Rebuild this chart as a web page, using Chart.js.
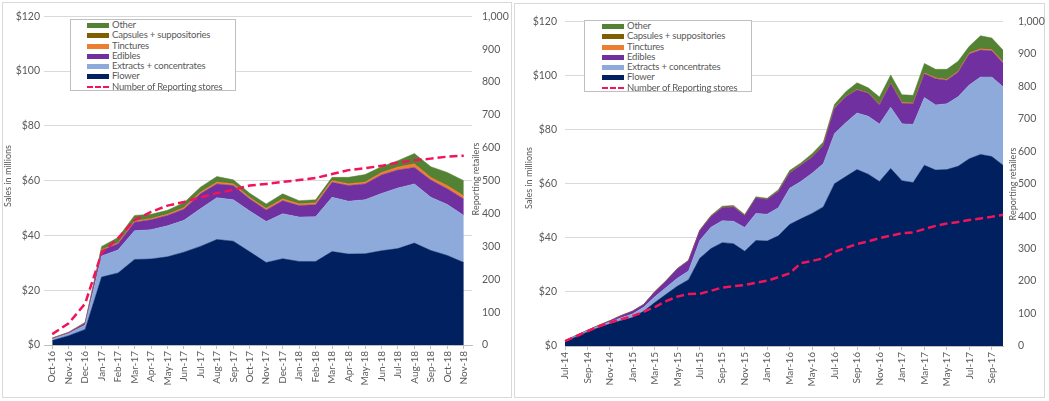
<!DOCTYPE html>
<html>
<head>
<meta charset="utf-8">
<script src="https://cdn.jsdelivr.net/npm/chart.js@4.4.1/dist/chart.umd.min.js"></script>
<style>
  body { margin: 0; background: #fff; font-family: Lato, sans-serif; }
  #page { position: relative; width: 1049px; height: 401px; overflow: hidden; }
  .panel { position: absolute; border: 1px solid #d9d9d9; box-sizing: border-box; }
  canvas { position: absolute; top: 0; }
  .legend { position: absolute; border: 1px solid #bfbfbf; background: #fff; box-sizing: border-box;
            font-size: 9.5px; letter-spacing: -0.2px; color: #595959; }
  .legend .row { position: relative; height: 10.25px; line-height: 10.25px; white-space: nowrap; }
  .legend .txt { position: absolute; color: #595959; }
  .legend .sw { position: absolute; top: 3px; height: 5px; }
  .legend .dash { position: absolute; top: 4px; height: 0; border-top: 2.5px dashed #f0145a; }
</style>
</head>
<body>
<div id="page">
  <div class="panel" style="left:2px; top:2px; width:510px; height:396px;"></div>
  <div class="panel" style="left:514px; top:3px; width:531px; height:395px;"></div>
  <canvas id="leftChart" width="512" height="401" style="left:0;"></canvas>
  <canvas id="rightChart" width="537" height="401" style="left:512px;"></canvas>
  <div id="leftLegend" class="legend" style="left:70px; top:19px; width:166px; height:72px;"></div>
  <div id="rightLegend" class="legend" style="left:584px; top:20px; width:168px; height:72px;"></div>
</div>

<script>
// ---- data: left panel (monthly, Oct-16 .. Nov-18), sales in $ millions ----
const leftMonths = ['Oct-16','Nov-16','Dec-16','Jan-17','Feb-17','Mar-17','Apr-17','May-17','Jun-17',
  'Jul-17','Aug-17','Sep-17','Oct-17','Nov-17','Dec-17','Jan-18','Feb-18','Mar-18','Apr-18','May-18',
  'Jun-18','Jul-18','Aug-18','Sep-18','Oct-18','Nov-18'];
const leftFlower    = [1.6, 3.4, 5.7, 24.8, 26.3, 31.2, 31.4, 32.2, 33.9, 36.0, 38.5, 37.9, 34.0, 30.1, 31.5, 30.5, 30.5, 34.1, 33.2, 33.3, 34.4, 35.2, 37.2, 34.5, 32.7, 30.1];
const leftExtracts  = [0.6, 0.8, 1.6, 7.7, 8.4, 10.5, 10.7, 11.3, 11.6, 13.7, 15.3, 15.1, 14.9, 15.0, 16.4, 16.2, 16.3, 19.8, 19.3, 19.7, 20.9, 22.1, 21.6, 19.4, 18.6, 17.2];
const leftEdibles   = [0.2, 0.3, 0.6, 2.0, 2.3, 3.1, 3.6, 3.8, 4.1, 5.5, 5.0, 5.2, 4.4, 4.2, 4.8, 4.2, 4.4, 5.5, 5.7, 5.8, 6.8, 6.6, 6.0, 6.3, 5.7, 6.0];
const leftTinctures = [0.05, 0.05, 0.1, 0.3, 0.3, 0.4, 0.4, 0.4, 0.5, 0.5, 0.6, 0.6, 0.5, 0.5, 0.6, 0.6, 0.6, 0.6, 0.6, 0.6, 0.8, 1.0, 1.3, 0.9, 1.1, 1.1];
const leftCapsules  = [0.02, 0.03, 0.05, 0.1, 0.1, 0.15, 0.15, 0.15, 0.2, 0.2, 0.2, 0.2, 0.2, 0.2, 0.2, 0.2, 0.2, 0.2, 0.2, 0.2, 0.2, 0.2, 0.2, 0.2, 0.2, 0.2];
const leftOther     = [0.1, 0.1, 0.25, 1.1, 1.8, 1.95, 1.45, 1.35, 1.6, 1.7, 1.9, 1.3, 1.4, 1.5, 1.7, 1.0, 1.0, 1.0, 2.2, 2.6, 2.0, 2.2, 3.6, 3.8, 4.7, 5.4];
const leftStores    = [33, 66, 126, 280, 325, 380, 405, 424, 435, 449, 462, 472, 485, 490, 496, 502, 508, 520, 532, 538, 545, 555, 562, 567, 573, 576];

// ---- data: right panel (monthly, Jul-14 .. Oct-17) ----
const rightMonths = ['Jul-14','Aug-14','Sep-14','Oct-14','Nov-14','Dec-14','Jan-15','Feb-15','Mar-15','Apr-15',
  'May-15','Jun-15','Jul-15','Aug-15','Sep-15','Oct-15','Nov-15','Dec-15','Jan-16','Feb-16','Mar-16','Apr-16',
  'May-16','Jun-16','Jul-16','Aug-16','Sep-16','Oct-16','Nov-16','Dec-16','Jan-17','Feb-17','Mar-17','Apr-17',
  'May-17','Jun-17','Jul-17','Aug-17','Sep-17','Oct-17'];
const rightFlower    = [1.6, 3.4, 5.2, 6.8, 8.2, 9.4, 10.5, 12.8, 16.1, 19.1, 22.1, 24.5, 32.4, 36.0, 38.2, 37.8, 35.0, 39.0, 38.8, 40.7, 44.9, 47.0, 49.0, 51.4, 60.0, 62.6, 65.2, 63.5, 60.8, 65.6, 61.1, 60.4, 66.8, 65.0, 65.2, 66.4, 69.2, 70.8, 70.0, 66.8];
const rightExtracts  = [0.3, 0.4, 0.5, 0.6, 0.7, 1.0, 1.3, 1.5, 2.1, 2.5, 2.9, 3.2, 6.6, 7.9, 8.1, 8.3, 8.8, 10.0, 9.9, 10.4, 13.4, 13.8, 14.8, 16.0, 18.5, 19.9, 20.9, 21.4, 21.2, 22.6, 21.0, 21.5, 25.0, 24.1, 24.3, 25.7, 27.3, 28.6, 29.4, 29.0];
const rightEdibles   = [0.05, 0.1, 0.1, 0.2, 0.4, 0.8, 1.0, 1.0, 1.8, 2.4, 3.5, 3.8, 3.6, 4.0, 4.8, 5.3, 4.3, 5.7, 5.4, 6.0, 5.5, 6.0, 6.0, 6.6, 9.4, 9.6, 8.5, 8.5, 7.1, 8.8, 7.6, 7.6, 8.8, 9.7, 8.7, 9.1, 11.4, 10.0, 9.7, 8.8];
const rightTinctures = [0, 0, 0, 0.02, 0.02, 0.03, 0.03, 0.03, 0.05, 0.05, 0.05, 0.05, 0.05, 0.05, 0.05, 0.05, 0.05, 0.05, 0.05, 0.05, 0.1, 0.1, 0.1, 0.1, 0.15, 0.15, 0.15, 0.15, 0.2, 0.2, 0.3, 0.3, 0.3, 0.3, 0.3, 0.3, 0.35, 0.4, 0.4, 0.4];
const rightCapsules  = [0, 0, 0, 0, 0, 0, 0, 0, 0, 0, 0, 0, 0.02, 0.02, 0.02, 0.02, 0.02, 0.02, 0.02, 0.02, 0.05, 0.05, 0.05, 0.05, 0.05, 0.05, 0.05, 0.05, 0.05, 0.05, 0.05, 0.05, 0.05, 0.05, 0.05, 0.05, 0.05, 0.05, 0.05, 0.05];
const rightOther     = [0.02, 0.02, 0.03, 0.05, 0.05, 0.05, 0.05, 0.05, 0.1, 0.1, 0.1, 0.1, 0.2, 0.3, 0.5, 0.5, 0.4, 0.4, 0.4, 0.6, 0.9, 0.7, 1.1, 1.2, 1.2, 1.7, 2.5, 1.8, 2.7, 2.9, 2.8, 2.8, 3.5, 3.1, 3.7, 3.7, 2.5, 4.8, 4.3, 4.3];
const rightStores    = [15, 30, 45, 60, 72, 82, 92, 105, 120, 138, 152, 160, 161, 170, 180, 184, 188, 195, 201, 212, 224, 255, 262, 270, 290, 302, 314, 322, 332, 340, 347, 350, 360, 370, 377, 382, 388, 393, 398, 404];

const salesTicks  = [0, 20, 40, 60, 80, 100, 120];
const storesTicks = [0, 100, 200, 300, 400, 500, 600, 700, 800, 900, 1000];

const SERIES = [
  { label: 'Flower',                  color: '#002060' },
  { label: 'Extracts + concentrates', color: '#8eaadb' },
  { label: 'Edibles',                 color: '#7030a0' },
  { label: 'Tinctures',               color: '#ed7d31' },
  { label: 'Capsules + suppositories',color: '#7f6000' },
  { label: 'Other',                   color: '#548235' }
];
const STORES_LABEL = 'Number of Reporting stores';
const STORES_COLOR = '#f0145a';
const TEXT = '#595959';

Chart.defaults.font.family = 'Lato, sans-serif';
Chart.defaults.color = TEXT;

// rotated axis titles, placed between plot and right tick labels like the original
const axisTitles = {
  id: 'axisTitles',
  afterDraw(chart, args, opts) {
    const ctx = chart.ctx;
    ctx.save();
    ctx.font = '9px Lato, sans-serif';
    ctx.fillStyle = TEXT;
    ctx.textAlign = 'center';
    ctx.textBaseline = 'middle';
    opts.items.forEach(t => {
      ctx.save();
      ctx.translate(t.x, t.y);
      ctx.rotate(-Math.PI / 2);
      ctx.fillText(t.text, 0, 0);
      ctx.restore();
    });
    ctx.restore();
  }
};

function makeChart(id, labels, series, stores, cfg) {
  const datasets = SERIES.map((s, i) => ({
    label: s.label,
    data: series[i],
    backgroundColor: s.color,
    borderColor: s.color,
    borderWidth: 0.5,
    pointRadius: 0,
    fill: i === 0 ? 'origin' : '-1',
    stack: 'sales',
    yAxisID: 'y',
    order: 1
  }));
  datasets.push({
    label: STORES_LABEL,
    data: stores,
    borderColor: STORES_COLOR,
    borderWidth: 2.5,
    borderDash: [8, 4],
    pointRadius: 0,
    fill: false,
    yAxisID: 'y1',
    order: 0
  });

  return new Chart(document.getElementById(id), {
    type: 'line',
    data: { labels, datasets },
    plugins: [axisTitles],
    options: {
      responsive: false,
      animation: false,
      layout: { padding: { top: 15, left: 0, right: 0, bottom: 0 } },
      plugins: {
        legend: { display: false },
        tooltip: { enabled: false },
        axisTitles: { items: cfg.titles }
      },
      scales: {
        x: {
          offset: cfg.offset,
          afterFit: s => { s.height = cfg.xHeight; },
          grid: {
            drawOnChartArea: false,
            tickLength: 4,
            tickColor: ctx => (cfg.everyOther && ctx.index % 2) ? 'rgba(0,0,0,0)' : '#bfbfbf'
          },
          border: { color: '#bfbfbf' },
          ticks: {
            autoSkip: false,
            minRotation: 90,
            maxRotation: 90,
            padding: 2,
            font: { size: 10 },
            callback: function (v, i) {
              if (cfg.everyOther && i % 2) return '';
              return this.getLabelForValue(v);
            }
          }
        },
        y: {
          stacked: true,
          min: 0,
          max: 120,
          afterFit: s => { s.width = cfg.yWidth; },
          afterBuildTicks: s => { s.ticks = salesTicks.map(v => ({ value: v })); },
          grid: { color: '#d9d9d9', drawTicks: false },
          border: { display: false },
          ticks: { padding: cfg.yPad, font: { size: 10.5 }, callback: v => '$' + v }
        },
        y1: {
          position: 'right',
          min: 0,
          max: 1000,
          afterFit: s => { s.width = cfg.y1Width; },
          afterBuildTicks: s => { s.ticks = storesTicks.map(v => ({ value: v })); },
          grid: { drawOnChartArea: false, drawTicks: false },
          border: { display: false },
          ticks: { padding: cfg.y1Pad, font: { size: 10.5 } }
        }
      }
    }
  });
}

function buildLegend(chart, el, swLeft, swWidth, textLeft) {
  const ds = chart.data.datasets;
  const areas = ds.filter(d => d.stack === 'sales').reverse();
  const line = ds.find(d => d.yAxisID === 'y1');
  let html = '';
  areas.forEach(d => {
    html += `<div class="row"><span class="sw" style="left:${swLeft}px;width:${swWidth}px;background:${d.backgroundColor}"></span>` +
            `<span class="txt" style="left:${textLeft}px">${d.label}</span></div>`;
  });
  html += `<div class="row"><span class="dash" style="left:${swLeft}px;width:${swWidth}px"></span>` +
          `<span class="txt" style="left:${textLeft}px">${line.label}</span></div>`;
  el.innerHTML = html;
}

const leftChart = makeChart('leftChart', leftMonths,
  [leftFlower, leftExtracts, leftEdibles, leftTinctures, leftCapsules, leftOther], leftStores,
  { offset: true, everyOther: false, xHeight: 56, yWidth: 44, yPad: 4, y1Width: 40, y1Pad: 10,
    titles: [{ text: 'Sales in millions', x: 8, y: 176 }, { text: 'Reporting retailers', x: 476, y: 179 }] });

const rightChart = makeChart('rightChart', rightMonths,
  [rightFlower, rightExtracts, rightEdibles, rightTinctures, rightCapsules, rightOther], rightStores,
  { offset: false, everyOther: true, xHeight: 55, yWidth: 53, yPad: 8, y1Width: 46, y1Pad: 15,
    titles: [{ text: 'Sales in millions', x: 17, y: 178 }, { text: 'Reporting retailers', x: 501, y: 184 }] });

buildLegend(leftChart, document.getElementById('leftLegend'), 16, 22, 41);
buildLegend(rightChart, document.getElementById('rightLegend'), 17, 22, 42);
</script>
</body>
</html>
